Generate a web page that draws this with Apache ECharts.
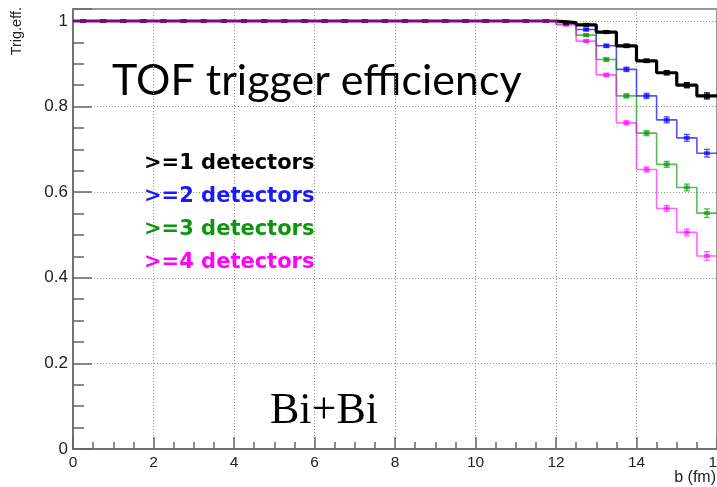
<!DOCTYPE html>
<html>
<head>
<meta charset="utf-8">
<script src="https://cdn.jsdelivr.net/npm/echarts@6/dist/echarts.min.js"></script>
<style>
  html, body { margin: 0; padding: 0; background: #fff; }
  #chart { width: 717px; height: 487px; }
</style>
</head>
<body>
<div id="chart"></div>
<script>
// bin lower edges and centres (0.5 fm bins), b in fm
const binLow = [0, 0.5, 1, 1.5, 2, 2.5, 3, 3.5, 4, 4.5, 5, 5.5, 6, 6.5, 7, 7.5,
  8, 8.5, 9, 9.5, 10, 10.5, 11, 11.5, 12, 12.5, 13, 13.5, 14, 14.5, 15, 15.5];
const binCenter = [0.25, 0.75, 1.25, 1.75, 2.25, 2.75, 3.25, 3.75, 4.25, 4.75, 5.25, 5.75,
  6.25, 6.75, 7.25, 7.75, 8.25, 8.75, 9.25, 9.75, 10.25, 10.75, 11.25, 11.75,
  12.25, 12.75, 13.25, 13.75, 14.25, 14.75, 15.25, 15.75];
const binHigh = 16;

const seriesNames = ['>=1 detectors', '>=2 detectors', '>=3 detectors', '>=4 detectors'];

// efficiencies
const eff1 = [1, 1, 1, 1, 1, 1, 1, 1, 1, 1, 1, 1, 1, 1, 1, 1, 1, 1, 1, 1, 1, 1, 1, 1,
  0.996, 0.991, 0.974, 0.942, 0.907, 0.879, 0.850, 0.825];
const eff2 = [1, 1, 1, 1, 1, 1, 1, 1, 1, 1, 1, 1, 1, 1, 1, 1, 1, 1, 1, 1, 1, 1, 1, 1,
  0.996, 0.980, 0.942, 0.887, 0.825, 0.769, 0.727, 0.691];
const eff3 = [1, 1, 1, 1, 1, 1, 1, 1, 1, 1, 1, 1, 1, 1, 1, 1, 1, 1, 1, 1, 1, 1, 1, 1,
  0.993, 0.967, 0.910, 0.825, 0.738, 0.665, 0.611, 0.551];
const eff4 = [1, 1, 1, 1, 1, 1, 1, 1, 1, 1, 1, 1, 1, 1, 1, 1, 1, 1, 1, 1, 1, 1, 1, 1,
  0.991, 0.953, 0.874, 0.762, 0.653, 0.562, 0.506, 0.451];

// error bars
const err1 = [0, 0, 0, 0, 0, 0, 0, 0, 0, 0, 0, 0, 0, 0, 0, 0, 0, 0, 0, 0, 0, 0, 0, 0,
  0.002, 0.002, 0.003, 0.004, 0.004, 0.005, 0.006, 0.007];
const err2 = [0, 0, 0, 0, 0, 0, 0, 0, 0, 0, 0, 0, 0, 0, 0, 0, 0, 0, 0, 0, 0, 0, 0, 0,
  0.002, 0.003, 0.004, 0.005, 0.006, 0.007, 0.008, 0.009];
const err3 = [0, 0, 0, 0, 0, 0, 0, 0, 0, 0, 0, 0, 0, 0, 0, 0, 0, 0, 0, 0, 0, 0, 0, 0,
  0.002, 0.003, 0.004, 0.005, 0.006, 0.007, 0.008, 0.010];
const err4 = [0, 0, 0, 0, 0, 0, 0, 0, 0, 0, 0, 0, 0, 0, 0, 0, 0, 0, 0, 0, 0, 0, 0, 0,
  0.002, 0.003, 0.004, 0.005, 0.006, 0.007, 0.008, 0.010];

const colors = ['#000000', 'rgba(0,0,255,0.68)', 'rgba(0,150,0,0.65)', 'rgba(255,0,255,0.6)'];
const textColors = ['#000000', '#1a1aff', '#0c960c', '#ff00ff'];
const widths = [3.2, 1.6, 1.6, 1.6];
const overlapColor = '#7d0a7d'; // where all four curves sit on top of each other at 1
const overlapEnd = 12;

const effs = [eff1, eff2, eff3, eff4];
const errs = [err1, err2, err3, err4];
const zs = [10, 4, 5, 6];

const chart = echarts.init(document.getElementById('chart'));

const series = [];
effs.forEach((eff, k) => {
  const steps = binLow.map((x, i) => [x, eff[i]]);
  steps.push([binHigh, eff[eff.length - 1]]);
  const frac = overlapEnd / binHigh;
  const lineColor = k === 0
    ? new echarts.graphic.LinearGradient(0, 0, 1, 0, [
        { offset: 0, color: overlapColor }, { offset: frac, color: overlapColor },
        { offset: frac, color: colors[0] }, { offset: 1, color: colors[0] }])
    : colors[k];
  series.push({
    name: seriesNames[k],
    type: 'line',
    step: 'end',
    data: steps,
    showSymbol: false,
    lineStyle: { color: lineColor, width: widths[k] },
    itemStyle: { color: textColors[k] },
    z: zs[k],
    silent: true
  });
  series.push({
    type: 'custom',
    data: binCenter.map((c, i) => [c, eff[i], errs[k][i]]),
    z: zs[k],
    silent: true,
    renderItem: (params, api) => {
      const xv = api.value(0), yv = api.value(1), e = api.value(2);
      const col = (k === 0 && xv < overlapEnd) ? overlapColor : colors[k];
      const p = api.coord([xv, yv]);
      const pt = api.coord([xv, yv + e]);
      const pb = api.coord([xv, yv - e]);
      const children = [{
        type: 'rect',
        shape: { x: p[0] - 3, y: p[1] - 2, width: 6, height: 4 },
        style: { fill: col }
      }];
      if (e > 0) {
        children.push({
          type: 'line', shape: { x1: p[0], y1: pt[1], x2: p[0], y2: pb[1] },
          style: { stroke: col, lineWidth: 1.3 }
        }, {
          type: 'line', shape: { x1: p[0] - 3, y1: pt[1], x2: p[0] + 3, y2: pt[1] },
          style: { stroke: col, lineWidth: 1.3 }
        }, {
          type: 'line', shape: { x1: p[0] - 3, y1: pb[1], x2: p[0] + 3, y2: pb[1] },
          style: { stroke: col, lineWidth: 1.3 }
        });
      }
      return { type: 'group', children };
    }
  });
});

const axisCol = '#666';
const sansFont = 'Liberation Sans, Arial, sans-serif';

chart.setOption({
  animation: false,
  backgroundColor: '#fff',
  grid: {
    left: 73, right: 0, top: 9, bottom: 38,
    outerBoundsMode: 'none',
    show: true, borderColor: '#777', borderWidth: 1.5
  },
  legend: {
    data: seriesNames.map((n, k) => ({ name: n, icon: 'none', textStyle: { color: textColors[k] } })),
    orient: 'vertical',
    left: 134, top: 148,
    itemWidth: 0, itemHeight: 0, itemGap: 12,
    selectedMode: false,
    textStyle: { fontSize: 21, fontWeight: 'bold', fontFamily: '"DejaVu Sans", sans-serif' }
  },
  xAxis: {
    type: 'value',
    min: 0, max: 16, interval: 2,
    axisLine: { show: true, lineStyle: { color: axisCol, width: 1.5 } },
    axisTick: { show: true, inside: true, length: 12, lineStyle: { color: axisCol, width: 1.5 } },
    minorTick: { show: true, splitNumber: 4, length: 7, lineStyle: { color: axisCol, width: 1.5 } },
    axisLabel: { margin: 6, showMinLabel: true, showMaxLabel: true, color: '#222', fontSize: 15.5, fontFamily: sansFont },
    splitLine: { show: true, lineStyle: { color: '#999', type: [1, 2], width: 1 } }
  },
  yAxis: {
    type: 'value',
    min: 0, max: 1.028, interval: 0.2,
    axisLine: { show: true, lineStyle: { color: axisCol, width: 1.5 } },
    axisTick: { show: true, inside: true, length: 19, lineStyle: { color: axisCol, width: 1.5 } },
    minorTick: { show: true, splitNumber: 4, length: 11, lineStyle: { color: axisCol, width: 1.5 } },
    axisLabel: {
      margin: 5, showMaxLabel: false, color: '#222', fontSize: 17, fontFamily: sansFont,
      formatter: v => (v === 0 ? '0' : (Math.abs(v - 1) < 1e-6 ? '1' : v.toFixed(1)))
    },
    splitLine: { show: true, lineStyle: { color: '#999', type: [1, 2], width: 1 } }
  },
  graphic: [
    {
      type: 'text', left: 112, top: 60, silent: true,
      style: { text: 'TOF trigger efficiency', fontSize: 43, fontFamily: 'Lato, "Open Sans", sans-serif', fill: '#000' }
    },
    {
      type: 'text', left: 270, top: 389, silent: true,
      style: { text: 'Bi+Bi', fontSize: 44, fontFamily: '"Liberation Serif", "DejaVu Serif", serif', fill: '#000' }
    },
    {
      type: 'text', x: 9, y: 7, rotation: Math.PI / 2, silent: true,
      style: { text: 'Trig.eff.', fontSize: 14.5, fontFamily: sansFont, fill: '#222', align: 'right', verticalAlign: 'top' }
    },
    {
      type: 'text', right: 1, top: 470, silent: true,
      style: { text: 'b (fm)', fontSize: 16, fontFamily: sansFont, fill: '#222' }
    }
  ],
  series
});
</script>
</body>
</html>
